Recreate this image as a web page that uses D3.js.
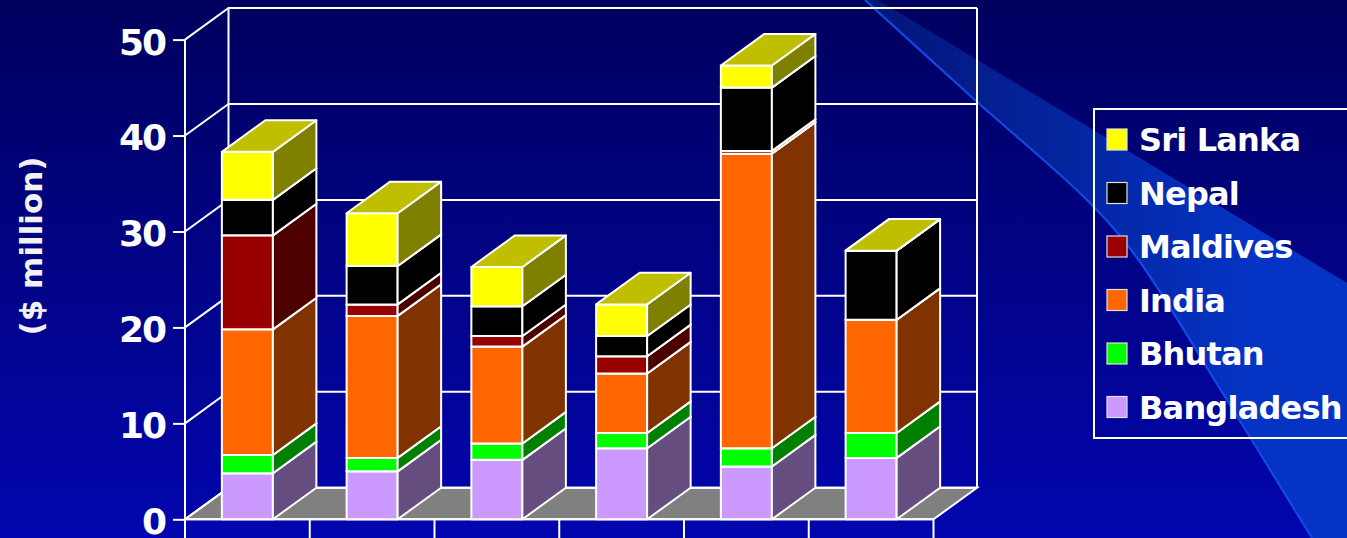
<!DOCTYPE html>
<html>
<head>
<meta charset="utf-8">
<script src="https://cdn.jsdelivr.net/npm/d3@7/dist/d3.min.js"></script>
<style>
  html, body { margin: 0; padding: 0; background: #000080; overflow: hidden; }
  svg { display: block; }
</style>
</head>
<body>
<svg id="chart" width="1347" height="538"></svg>
<script>
// ---- data ($ million) ----
const categories = ["C1", "C2", "C3", "C4", "C5", "C6"];
const seriesNames = ["Bangladesh", "Bhutan", "India", "Maldives", "Nepal", "Sri Lanka"];
const bangladesh = [4.8, 5.0, 6.2, 7.4, 5.5, 6.4];
const bhutan     = [1.9, 1.4, 1.7, 1.6, 1.9, 2.6];
const india      = [13.1, 14.8, 10.1, 6.2, 30.7, 11.8];
const maldives   = [9.8, 1.2, 1.1, 1.8, 0.3, 0];
const nepal      = [3.7, 4.0, 3.1, 2.1, 6.6, 7.2];
const sriLanka   = [5.0, 5.5, 4.1, 3.3, 2.3, 0];
const yTicks = [0, 10, 20, 30, 40, 50];
const yTitle = "($ million)";
const seriesColors = ["#CC99FF", "#00FF00", "#FF6600", "#990000", "#000000", "#FFFF00"];

const seriesValues = [bangladesh, bhutan, india, maldives, nepal, sriLanka];
const rows = categories.map((c, i) => {
  const r = { category: c };
  seriesNames.forEach((s, k) => r[s] = seriesValues[k][i]);
  return r;
});
const stacked = d3.stack().keys(seriesNames)(rows);

// ---- geometry ----
const svg = d3.select("#chart");
const W = 1347, H = 538;
const x0 = 185, x1 = 933.5;
const DX = 43.5, DY = -31.6;
const y = d3.scaleLinear().domain([0, 50]).range([519.3, 39.6]);
const x = d3.scaleBand().domain(categories).range([x0, x1])
  .paddingInner(0.591).paddingOuter(0.2955);
const color = d3.scaleOrdinal().domain(seriesNames).range(seriesColors);
const shade = (c, f) => { const k = d3.rgb(c); return d3.rgb(k.r * f, k.g * f, k.b * f).formatHex(); };

// ---- background ----
const defs = svg.append("defs");
const bg = defs.append("linearGradient").attr("id", "bg").attr("x1", 0).attr("y1", 0).attr("x2", 0).attr("y2", 1);
bg.append("stop").attr("offset", "0%").attr("stop-color", "#00005E");
bg.append("stop").attr("offset", "100%").attr("stop-color", "#0206AE");
const sw = defs.append("linearGradient").attr("id", "sw").attr("gradientUnits", "userSpaceOnUse")
  .attr("x1", 880).attr("y1", 0).attr("x2", 1250).attr("y2", 0);
sw.append("stop").attr("offset", "0%").attr("stop-color", "#03167A");
sw.append("stop").attr("offset", "100%").attr("stop-color", "#0533C4");

svg.append("rect").attr("width", W).attr("height", H).attr("fill", "url(#bg)");

const lowerEdge = [[865, 0], [975, 100], [1087, 200], [1135, 255], [1222, 392], [1312, 538]];
const curve = d3.line().curve(d3.curveCatmullRom);
const upper = [[878, 0], [1347, 283], [1347, 538]];
const wedgePts = upper.concat(lowerEdge.slice().reverse());
svg.append("path")
  .attr("d", d3.line().curve(d3.curveLinear)(upper) + "L" + curve(lowerEdge.slice().reverse()).slice(1) + "Z")
  .attr("fill", "url(#sw)");
svg.append("path").attr("d", curve(lowerEdge)).attr("fill", "none")
  .attr("stroke", "#1448E6").attr("stroke-width", 2.2);

// ---- walls, floor, gridlines ----
const g = svg.append("g");
const WH = "#FFFFFF";
// floor
g.append("path")
  .attr("d", `M${x0},${y(0)}L${x0 + DX},${y(0) + DY}L${x1 + DX},${y(0) + DY}L${x1},${y(0)}Z`)
  .attr("fill", "#808080").attr("stroke", WH).attr("stroke-width", 2);
// gridlines: left-wall diagonal + back-wall horizontal
yTicks.forEach(t => {
  g.append("path")
    .attr("d", `M${x0},${y(t)}L${x0 + DX},${y(t) + DY}L${x1 + DX},${y(t) + DY}`)
    .attr("fill", "none").attr("stroke", WH).attr("stroke-width", 2);
});
// back wall verticals
g.append("line").attr("x1", x0 + DX).attr("x2", x0 + DX).attr("y1", y(50) + DY).attr("y2", y(0) + DY)
  .attr("stroke", WH).attr("stroke-width", 2);
g.append("line").attr("x1", x1 + DX).attr("x2", x1 + DX).attr("y1", y(50) + DY).attr("y2", y(0) + DY)
  .attr("stroke", WH).attr("stroke-width", 2);

// x axis with long category tick lines (labels fall outside the view)
const xEdges = categories.map(c => x(c) - x.step() * x.paddingOuter()).concat([x1]);
g.append("line").attr("x1", x0).attr("x2", x1).attr("y1", y(0)).attr("y2", y(0))
  .attr("stroke", WH).attr("stroke-width", 2);
g.selectAll(".xt").data(xEdges).join("line").attr("class", "xt")
  .attr("x1", d => d).attr("x2", d => d).attr("y1", y(0)).attr("y2", H + 5)
  .attr("stroke", WH).attr("stroke-width", 2);

// y axis
g.append("line").attr("x1", x0).attr("x2", x0).attr("y1", y(50)).attr("y2", H + 5)
  .attr("stroke", WH).attr("stroke-width", 2);
const yAxis = d3.axisLeft(y).tickValues(yTicks).tickSize(12).tickPadding(8).tickFormat(d3.format("d"));
const ya = svg.append("g").attr("transform", `translate(${x0},0)`).call(yAxis);
ya.select(".domain").remove();
ya.selectAll(".tick line").attr("stroke", WH).attr("stroke-width", 2);
ya.selectAll(".tick text")
  .attr("fill", WH).attr("x", -20).attr("dy", "0.4em")
  .style("font-family", "'DejaVu Sans', sans-serif").style("font-weight", "bold")
  .style("font-size", "36px").style("letter-spacing", "-2px");

svg.append("text")
  .attr("transform", `translate(42,246) rotate(-90)`)
  .attr("text-anchor", "middle")
  .attr("fill", "#F2F2F2")
  .style("font-family", "'DejaVu Sans', sans-serif").style("font-weight", "bold")
  .style("font-size", "31px")
  .text(yTitle);

// ---- 3D stacked bars ----
const bars = svg.append("g");
categories.forEach((c, i) => {
  const bx0 = x(c), bx1 = x(c) + x.bandwidth();
  const bg_ = bars.append("g");
  stacked.forEach(s => {
    const lo = y(s[i][0]), hi = y(s[i][1]);
    const col = color(s.key);
    const seg = bg_.append("g").attr("stroke", WH).attr("stroke-width", 2).attr("stroke-linejoin", "round");
    // front
    seg.append("path").attr("d", `M${bx0},${lo}L${bx1},${lo}L${bx1},${hi}L${bx0},${hi}Z`).attr("fill", col);
    // side
    seg.append("path").attr("d", `M${bx1},${lo}L${bx1 + DX},${lo + DY}L${bx1 + DX},${hi + DY}L${bx1},${hi}Z`)
      .attr("fill", shade(col, 0.5));
    // top
    seg.append("path").attr("d", `M${bx0},${hi}L${bx1},${hi}L${bx1 + DX},${hi + DY}L${bx0 + DX},${hi + DY}Z`)
      .attr("fill", shade(col, 0.75));
  });
});

// ---- legend ----
const legendOrder = seriesNames.slice().reverse();
const lg = svg.append("g");
lg.append("rect").attr("x", 1094).attr("y", 109).attr("width", 300).attr("height", 329)
  .attr("fill", "none").attr("stroke", WH).attr("stroke-width", 2);
const ly = d3.scalePoint().domain(legendOrder).range([139.5, 407]);
const items = lg.selectAll(".li").data(legendOrder).join("g").attr("class", "li")
  .attr("transform", d => `translate(0,${ly(d)})`);
items.append("rect").attr("x", 1107).attr("y", -10.5).attr("width", 20).attr("height", 21)
  .attr("fill", d => color(d)).attr("stroke", "#E0E0E0").attr("stroke-width", 1.2);
items.append("text").attr("x", 1139).attr("y", 11.5).text(d => d)
  .attr("fill", WH)
  .style("font-family", "'DejaVu Sans', sans-serif").style("font-weight", "bold")
  .style("font-size", "32px").style("letter-spacing", "-0.8px");
</script>
</body>
</html>
